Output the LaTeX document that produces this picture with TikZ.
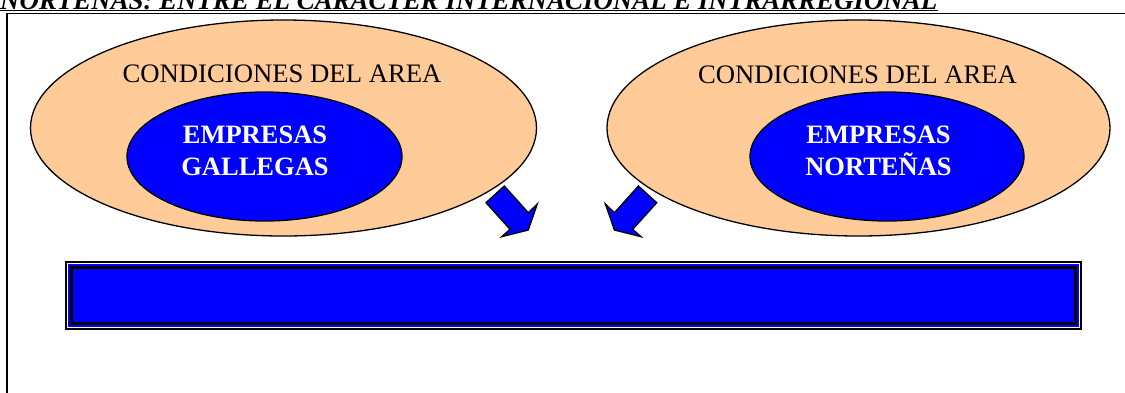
\documentclass[tikz,border=0pt]{standalone}
\usepackage{fontspec}
\setmainfont{Liberation Serif}
\usetikzlibrary{shapes.geometric}
\definecolor{peach}{HTML}{FFCC99}
\definecolor{pureblue}{HTML}{0000FF}
\tikzset{
  outerell/.style={ellipse, draw=black, line width=1.3pt, fill=peach, inner sep=0pt},
  innerell/.style={ellipse, draw=black, line width=1.3pt, fill=pureblue, inner sep=0pt},
  areatext/.style={inner sep=0pt, anchor=base, font=\fontsize{26.7}{32}\selectfont},
  emptext/.style={inner sep=0pt, anchor=base, text=white, align=center, font=\fontsize{26.5}{32}\selectfont\bfseries},
  blockarrow/.style={draw=black, line width=1.3pt, fill=pureblue, line join=miter},
  frameline/.style={draw=black, line width=1.6pt}
}
\begin{document}
\begin{tikzpicture}[x=1pt,y=-1pt]
\useasboundingbox (0,0) rectangle (1125,392);
\clip (0,0) rectangle (1125,392);
% title
\node[inner sep=0pt, anchor=base west, font=\fontsize{26.9}{30}\selectfont\bfseries\itshape] (title) at (0,9) {NORTEÑAS: ENTRE EL CARACTER INTERNACIONAL E INTRARREGIONAL};
\draw[line width=1.2pt] ([yshift=-1.8pt]title.base west) -- ([yshift=-1.8pt]title.base east);
% frame
\coordinate (fbl) at (7,400);
\coordinate (ftl) at (7,13.5);
\coordinate (ftr) at (1130,13.5);
\draw[frameline] (fbl) -- (ftl) -- (ftr);
% left group
\node[outerell, minimum width=506pt, minimum height=216pt] (lout) at (283.5,128) {};
\node[innerell, minimum width=275pt, minimum height=129pt] (lin) at (264.5,156.5) {};
\node[areatext] (ltxt) at (282,82) {CONDICIONES DEL AREA};
\node[emptext] (lemp) at (255,175) {EMPRESAS\\GALLEGAS};
% right group
\node[outerell, minimum width=503pt, minimum height=216pt] (rout) at (858.5,128) {};
\node[innerell, minimum width=274pt, minimum height=129pt] (rin) at (887,156.5) {};
\node[areatext] (rtxt) at (857.5,83) {CONDICIONES DEL AREA};
\node[emptext] (remp) at (878.5,175) {EMPRESAS\\NORTEÑAS};
% block arrows
\draw[blockarrow] (486,202.7) -- (504.3,186) -- (528.3,212.7) -- (537.3,204) -- (528.3,230) -- (501.7,236.7) -- (510,229.3) -- cycle;
\draw[blockarrow] (656.7,202.7) -- (638.4,186) -- (614.4,212.7) -- (605.4,204) -- (614.4,230) -- (641,236.7) -- (632.7,229.3) -- cycle;
% bar
\node[draw=black, line width=2.4pt, fill=pureblue, minimum width=1015pt, minimum height=67pt, inner sep=0pt] (bar) at (573.3,295.5) {};
\draw[white, line width=1pt] ([xshift=2.9pt,yshift=-2.9pt]bar.north west) rectangle ([xshift=-2.9pt,yshift=2.9pt]bar.south east);
\draw[black, line width=3pt] ([xshift=6.8pt,yshift=-6.8pt]bar.north west) rectangle ([xshift=-6.8pt,yshift=6.8pt]bar.south east);
\end{tikzpicture}
\end{document}
